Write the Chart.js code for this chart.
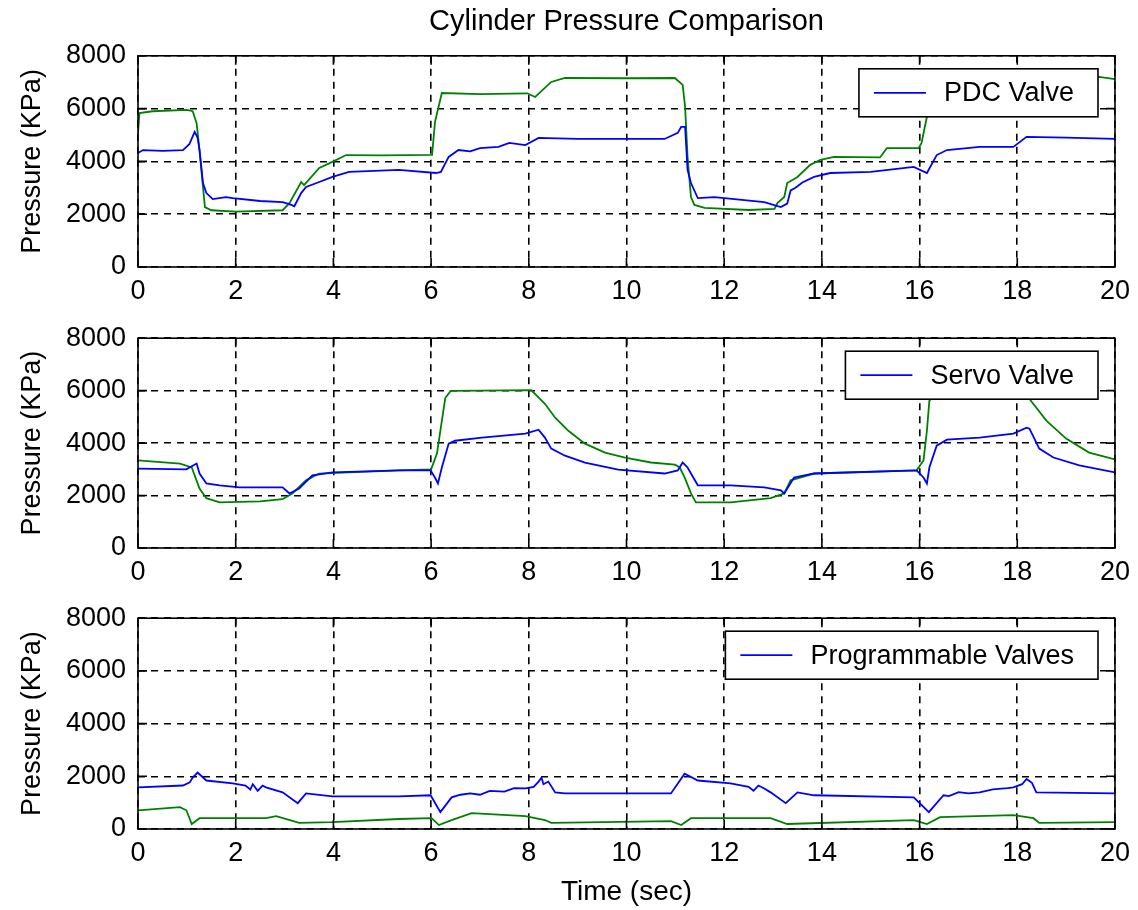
<!DOCTYPE html>
<html><head><meta charset="utf-8">
<script src="https://cdn.jsdelivr.net/npm/chart.js@4/dist/chart.umd.min.js"></script>
<style>
html,body{margin:0;padding:0;background:#fff;width:1138px;height:910px;overflow:hidden}
.p{position:absolute;left:0;width:1138px}
canvas{display:block}
</style></head><body>
<div class="p" style="top:0;height:310px"><canvas id="c1" width="1138" height="310"></canvas></div>
<div class="p" style="top:310px;height:290px"><canvas id="c2" width="1138" height="290"></canvas></div>
<div class="p" style="top:590px;height:320px"><canvas id="c3" width="1138" height="320"></canvas></div>
<script>
// ---------- data ----------
const chartTitle = 'Cylinder Pressure Comparison';
const xAxisTitle = 'Time (sec)';
const yAxisTitle = 'Pressure (KPa)';
const xTickValues = [0, 2, 4, 6, 8, 10, 12, 14, 16, 18, 20];
const yTickValues = [0, 2000, 4000, 6000, 8000];
const panelLabels = ['PDC Valve', 'Servo Valve', 'Programmable Valves'];

// Panel 1: PDC Valve
const pdcBlueT = [0, 0.1, 0.5, 0.92, 1.05, 1.16, 1.22, 1.26, 1.33, 1.4, 1.53, 1.8, 1.94, 2.5, 2.96, 3.14, 3.2, 3.34, 3.44, 3.71, 3.98, 4.32, 5.34, 6.1, 6.2, 6.36, 6.56, 6.8, 7.0, 7.38, 7.6, 7.93, 8.2, 9.0, 10.78, 11.05, 11.12, 11.2, 11.25, 11.32, 11.46, 11.8, 12.82, 13.16, 13.29, 13.36, 13.46, 13.6, 13.84, 14.17, 15.0, 15.88, 16.15, 16.35, 16.56, 17.23, 17.92, 18.19, 19.0, 20];
const pdcBlueV = [4320, 4430, 4400, 4430, 4650, 5120, 4900, 4430, 3180, 2800, 2570, 2650, 2610, 2500, 2460, 2350, 2300, 2800, 3030, 3220, 3410, 3600, 3680, 3560, 3600, 4170, 4430, 4380, 4500, 4550, 4700, 4620, 4890, 4850, 4850, 5080, 5310, 5310, 3680, 3180, 2610, 2650, 2460, 2270, 2400, 2900, 3000, 3200, 3410, 3560, 3600, 3790, 3560, 4240, 4430, 4550, 4550, 4930, 4900, 4850];
const pdcGreenT = [0, 0.03, 0.3, 1.0, 1.12, 1.2, 1.26, 1.37, 1.5, 2.0, 2.96, 3.1, 3.34, 3.4, 3.71, 3.98, 4.26, 5.0, 6.02, 6.08, 6.22, 7.0, 7.97, 8.13, 8.46, 8.74, 10.0, 10.99, 11.15, 11.2, 11.25, 11.32, 11.39, 11.6, 12.5, 13.03, 13.09, 13.23, 13.29, 13.5, 13.76, 13.97, 14.25, 15.19, 15.33, 15.98, 16.04, 16.15, 16.25, 17.9, 18.05, 18.4, 18.7, 19.67, 20];
const pdcGreenV = [5080, 5830, 5900, 5950, 5900, 5450, 4400, 2270, 2150, 2100, 2150, 2420, 3220, 3100, 3750, 3980, 4240, 4230, 4250, 5500, 6590, 6550, 6580, 6440, 7010, 7160, 7150, 7160, 6900, 6060, 4170, 2650, 2350, 2240, 2160, 2200, 2420, 2650, 3180, 3410, 3870, 4060, 4170, 4150, 4500, 4500, 4700, 5690, 6550, 6550, 6450, 7000, 7180, 7200, 7120];

// Panel 2: Servo Valve
const servoBlueT = [0, 0.99, 1.2, 1.26, 1.4, 1.67, 2.08, 2.96, 3.1, 3.3, 3.57, 3.98, 5.34, 5.99, 6.09, 6.14, 6.22, 6.36, 6.49, 7.04, 7.93, 8.2, 8.33, 8.46, 8.74, 9.15, 9.83, 10.78, 11.05, 11.15, 11.25, 11.46, 12.13, 12.82, 13.16, 13.23, 13.43, 13.84, 15.94, 16.08, 16.15, 16.2, 16.35, 16.56, 17.23, 17.92, 18.19, 18.25, 18.45, 18.74, 19.27, 20];
const servoBlueV = [3030, 3000, 3220, 2840, 2460, 2390, 2310, 2310, 2080, 2270, 2770, 2880, 2960, 2960, 2650, 2460, 3070, 3980, 4090, 4210, 4360, 4510, 4210, 3790, 3520, 3260, 2990, 2840, 2960, 3260, 3070, 2390, 2390, 2310, 2200, 2080, 2690, 2840, 2960, 2690, 2460, 3070, 3900, 4130, 4210, 4360, 4590, 4550, 3790, 3450, 3150, 2880];
const servoGreenT = [0, 0.86, 1.1, 1.26, 1.4, 1.67, 2.5, 2.96, 3.16, 3.44, 3.71, 4.32, 5.34, 6.0, 6.12, 6.22, 6.29, 6.4, 7.0, 8.05, 8.33, 8.54, 8.81, 9.15, 9.56, 9.97, 10.5, 10.99, 11.09, 11.19, 11.32, 11.42, 12.13, 12.95, 13.23, 13.36, 13.84, 15.94, 16.08, 16.15, 16.2, 16.35, 18.1, 18.25, 18.6, 19.0, 19.47, 20];
const servoGreenV = [3340, 3220, 3070, 2270, 1900, 1740, 1780, 1860, 2080, 2580, 2840, 2880, 2960, 3000, 3600, 4850, 5720, 5990, 6000, 6020, 5500, 4970, 4470, 3980, 3640, 3450, 3260, 3180, 3070, 2690, 2080, 1740, 1740, 1900, 2080, 2580, 2840, 2960, 3340, 4470, 5610, 6000, 6000, 5680, 4850, 4170, 3640, 3380];

// Panel 3: Programmable Valves
const progBlueT = [0, 0.92, 1.06, 1.12, 1.22, 1.4, 1.94, 2.2, 2.3, 2.35, 2.45, 2.55, 2.62, 2.96, 3.27, 3.44, 3.98, 5.34, 5.99, 6.19, 6.42, 6.6, 6.8, 7.0, 7.2, 7.5, 7.7, 7.93, 8.1, 8.2, 8.26, 8.3, 8.4, 8.54, 8.74, 10.91, 11.19, 11.46, 12.13, 12.5, 12.6, 12.7, 12.82, 12.95, 13.26, 13.5, 13.84, 15.88, 16.19, 16.49, 16.6, 16.8, 17.0, 17.23, 17.5, 17.8, 17.92, 18.1, 18.19, 18.3, 18.39, 20];
const progBlueV = [1580, 1650, 1770, 1950, 2140, 1840, 1730, 1650, 1500, 1700, 1450, 1650, 1580, 1390, 980, 1350, 1240, 1240, 1280, 640, 1200, 1300, 1350, 1300, 1450, 1420, 1550, 1540, 1600, 1800, 1950, 1700, 1800, 1390, 1350, 1350, 2100, 1840, 1730, 1600, 1450, 1650, 1540, 1390, 980, 1390, 1280, 1200, 640, 1280, 1250, 1400, 1350, 1390, 1500, 1550, 1580, 1700, 1900, 1750, 1390, 1350];
const progGreenT = [0, 0.86, 0.99, 1.1, 1.26, 2.62, 2.83, 3.3, 3.98, 5.34, 6.01, 6.16, 6.42, 6.83, 7.93, 8.33, 8.46, 10.91, 11.12, 11.32, 12.95, 13.29, 15.88, 16.15, 16.42, 17.92, 18.33, 18.45, 20];
const progGreenV = [710, 830, 710, 190, 410, 410, 490, 230, 260, 380, 410, 150, 340, 600, 490, 340, 230, 300, 150, 410, 410, 190, 340, 190, 450, 530, 410, 230, 260];

// ---------- rendering ----------
const FONT = "'Liberation Sans', Arial, Helvetica, sans-serif";
Chart.defaults.font.family = FONT;
Chart.defaults.color = '#000';

const pts = (t, v) => t.map((x, i) => ({x: x, y: v[i]}));

const boxLegend = {
  id: 'boxLegend',
  afterDatasetsDraw(chart) {
    const ctx = chart.ctx, a = chart.chartArea;
    const ds = chart.data.datasets[0];
    ctx.save();
    ctx.font = '27px ' + FONT;
    const tw = ctx.measureText(ds.label).width;
    const w = 85 + tw + 24, h = 48;
    const x1 = a.right - 17, x0 = x1 - w, y0 = a.top + 13;
    ctx.fillStyle = '#fff';
    ctx.fillRect(x0, y0, w, h);
    ctx.strokeStyle = '#000';
    ctx.lineWidth = 1.6;
    ctx.strokeRect(x0, y0, w, h);
    ctx.strokeStyle = ds.borderColor;
    ctx.lineWidth = 1.8;
    ctx.beginPath();
    ctx.moveTo(x0 + 15, y0 + h / 2);
    ctx.lineTo(x0 + 67, y0 + h / 2);
    ctx.stroke();
    ctx.fillStyle = '#000';
    ctx.textBaseline = 'middle';
    ctx.textAlign = 'left';
    ctx.fillText(ds.label, x0 + 85, y0 + h / 2 + 1);
    ctx.restore();
  }
};

const axesBox = {
  id: 'axesBox',
  afterDraw(chart) {
    const ctx = chart.ctx, a = chart.chartArea;
    const xs = chart.scales.x, ys = chart.scales.y;
    ctx.save();
    ctx.strokeStyle = '#000';
    ctx.lineWidth = 1.6;
    ctx.strokeRect(a.left, a.top, a.right - a.left, a.bottom - a.top);
    ctx.beginPath();
    xTickValues.forEach(v => {
      const px = xs.getPixelForValue(v);
      ctx.moveTo(px, a.bottom); ctx.lineTo(px, a.bottom - 9);
      ctx.moveTo(px, a.top); ctx.lineTo(px, a.top + 9);
    });
    yTickValues.forEach(v => {
      const py = ys.getPixelForValue(v);
      ctx.moveTo(a.left, py); ctx.lineTo(a.left + 9, py);
      ctx.moveTo(a.right, py); ctx.lineTo(a.right - 9, py);
    });
    ctx.stroke();
    ctx.restore();
  }
};

function makeChart(id, label, bT, bV, gT, gV, cfg) {
  return new Chart(document.getElementById(id), {
    type: 'line',
    data: {
      datasets: [
        {label: label, data: pts(bT, bV), borderColor: '#0000ff', borderWidth: 1.8, pointRadius: 0, tension: 0, fill: false},
        {label: label + ' (ref)', data: pts(gT, gV), borderColor: '#008000', borderWidth: 1.8, pointRadius: 0, tension: 0, fill: false}
      ]
    },
    options: {
      responsive: false,
      animation: false,
      events: [],
      layout: {padding: {left: 0, right: 19, top: cfg.padTop, bottom: 0}},
      plugins: {
        legend: {display: false},
        tooltip: {enabled: false},
        title: cfg.title ? {
          display: true, text: cfg.title, fullSize: false, color: '#000',
          font: {size: 29, weight: 'normal', family: FONT},
          padding: {top: 5, bottom: 16}
        } : {display: false}
      },
      scales: {
        x: {
          type: 'linear', min: 0, max: 20,
          afterBuildTicks: s => { s.ticks = xTickValues.map(v => ({value: v})); },
          afterFit: s => { s.height = cfg.xHeight; },
          grid: {color: '#000', lineWidth: 1.6, drawTicks: false},
          border: {display: false, dash: [7, 6]},
          ticks: {font: {size: 27}, color: '#000', padding: 8, maxRotation: 0, callback: v => String(v)},
          title: cfg.xTitle ? {display: true, text: cfg.xTitle, color: '#000', font: {size: 28}, padding: {top: 0, bottom: 1}} : {display: false}
        },
        y: {
          type: 'linear', min: 0, max: 8000,
          afterBuildTicks: s => { s.ticks = yTickValues.map(v => ({value: v})); },
          afterFit: s => { s.width = 138; },
          grid: {color: '#000', lineWidth: 1.6, drawTicks: false},
          border: {display: false, dash: [7, 6]},
          ticks: {font: {size: 27}, color: '#000', padding: 12, callback: v => String(v)},
          title: {display: true, text: yAxisTitle, color: '#000', font: {size: 27}, padding: {top: 16, bottom: 0}}
        }
      }
    },
    plugins: [boxLegend, axesBox]
  });
}

makeChart('c1', panelLabels[0], pdcBlueT, pdcBlueV, pdcGreenT, pdcGreenV, {padTop: 0, xHeight: 43, title: chartTitle});
makeChart('c2', panelLabels[1], servoBlueT, servoBlueV, servoGreenT, servoGreenV, {padTop: 27, xHeight: 52});
makeChart('c3', panelLabels[2], progBlueT, progBlueV, progGreenT, progGreenV, {padTop: 26, xHeight: 81, xTitle: xAxisTitle});
</script>
</body></html>
